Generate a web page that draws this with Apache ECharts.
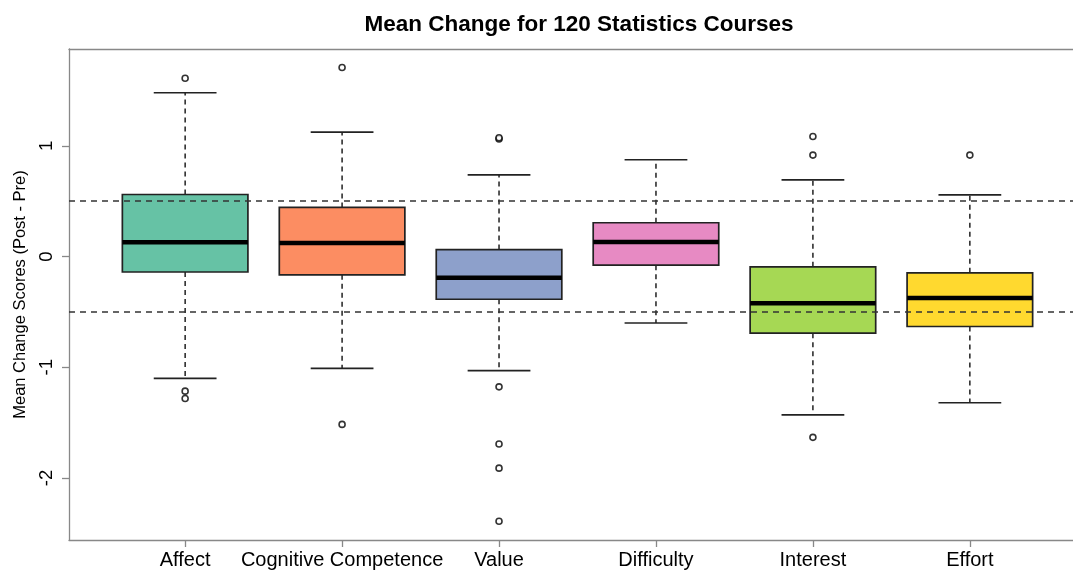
<!DOCTYPE html>
<html>
<head>
<meta charset="utf-8">
<script src="https://cdn.jsdelivr.net/npm/echarts@6/dist/echarts.min.js"></script>
<style>
html, body { margin: 0; padding: 0; background: #fff; }
#main { width: 1073px; height: 572px; }
</style>
</head>
<body>
<div id="main"></div>
<script>
const categories = ['Affect', 'Cognitive Competence', 'Value', 'Difficulty', 'Interest', 'Effort']
const whiskerLow = [-1.10, -1.01, -1.03, -0.60, -1.43, -1.32]
const q1 = [-0.14, -0.165, -0.386, -0.078, -0.692, -0.632]
const median = [0.128, 0.122, -0.192, 0.131, -0.422, -0.375]
const q3 = [0.56, 0.443, 0.063, 0.305, -0.093, -0.147]
const whiskerHigh = [1.479, 1.123, 0.737, 0.874, 0.692, 0.557]
const outliers = [
    [1.61, -1.216, -1.282],
    [1.707, -1.516],
    [1.061, 1.072, -1.177, -1.693, -1.911, -2.39],
    [],
    [1.084, 0.916, -1.633],
    [0.916],
]
const refLines = [0.5, -0.5]
const yTicks = [-2, -1, 0, 1]
const colors = ['#66C2A5', '#FC8D62', '#8DA0CB', '#E78AC3', '#A6D854', '#FFD92F']

const font = '"Liberation Sans", Arial, Helvetica, sans-serif'
const frame = { color: '#888', width: 1.3 }

// one row per box: [position, low whisker, q1, median, q3, high whisker]
const boxData = categories.map((c, i) => [i + 1, whiskerLow[i], q1[i], median[i], q3[i], whiskerHigh[i]])
const outlierData = []
outliers.forEach((list, i) => list.forEach(v => outlierData.push([i + 1, v])))

function renderBox(params, api) {
    const x = api.value(0)
    const lo = api.coord([x, api.value(1)])
    const b1 = api.coord([x, api.value(2)])
    const md = api.coord([x, api.value(3)])
    const b3 = api.coord([x, api.value(4)])
    const hi = api.coord([x, api.value(5)])
    const half = api.size([0.8, 0])[0] / 2
    const cap = half / 2
    const cx = lo[0]
    const dash = { stroke: '#111', lineWidth: 1.4, lineDash: [5, 4] }
    const solid = { stroke: '#222', lineWidth: 1.6 }
    return {
        type: 'group',
        children: [
            { type: 'line', shape: { x1: cx, y1: b3[1], x2: cx, y2: hi[1] }, style: dash },
            { type: 'line', shape: { x1: cx, y1: b1[1], x2: cx, y2: lo[1] }, style: dash },
            { type: 'line', shape: { x1: cx - cap, y1: hi[1], x2: cx + cap, y2: hi[1] }, style: solid },
            { type: 'line', shape: { x1: cx - cap, y1: lo[1], x2: cx + cap, y2: lo[1] }, style: solid },
            {
                type: 'rect',
                shape: { x: cx - half, y: b3[1], width: half * 2, height: b1[1] - b3[1] },
                style: { fill: colors[params.dataIndex], stroke: '#222', lineWidth: 1.7 },
            },
            { type: 'line', shape: { x1: cx - half, y1: md[1], x2: cx + half, y2: md[1] }, style: { stroke: '#000', lineWidth: 4.5 } },
        ],
    }
}

const myChart = echarts.init(document.getElementById('main'))
myChart.setOption({
    animation: false,
    title: {
        text: 'Mean Change for 120 Statistics Courses',
        left: 574,
        top: 8,
        textAlign: 'center',
        textStyle: { fontFamily: font, fontSize: 22.5, fontWeight: 'bold', color: '#000' },
    },
    grid: {
        left: 69,
        top: 49,
        width: 1017,
        height: 491,
        outerBoundsMode: 'none',
        containLabel: false,
    },
    xAxis: [
        {
            type: 'value',
            min: 0.26,
            max: 6.74,
            position: 'bottom',
            splitLine: { show: false },
            axisLine: { show: true, onZero: false, lineStyle: frame },
            axisTick: { show: true, length: 7, customValues: [1, 2, 3, 4, 5, 6], lineStyle: frame },
            axisLabel: {
                customValues: [1, 2, 3, 4, 5, 6],
                formatter: v => categories[Math.round(v) - 1],
                fontFamily: font,
                fontSize: 20,
                color: '#000',
                margin: 10,
            },
        },
        {
            type: 'value',
            min: 0.26,
            max: 6.74,
            position: 'top',
            splitLine: { show: false },
            axisLine: { show: true, onZero: false, lineStyle: frame },
            axisTick: { show: false },
            axisLabel: { show: false },
        },
    ],
    yAxis: {
        type: 'value',
        min: -2.56,
        max: 1.874,
        name: 'Mean Change Scores (Post - Pre)',
        nameLocation: 'middle',
        nameRotate: 90,
        nameGap: 39,
        nameTextStyle: { fontFamily: font, fontSize: 16.5, color: '#000' },
        splitLine: { show: false },
        axisLine: { show: true, onZero: false, lineStyle: frame },
        axisTick: { show: true, length: 7, customValues: yTicks, lineStyle: frame },
        axisLabel: {
            customValues: yTicks,
            rotate: 90,
            fontFamily: font,
            fontSize: 18.5,
            color: '#000',
            margin: 13,
        },
    },
    series: [
        {
            type: 'custom',
            renderItem: renderBox,
            data: boxData,
            encode: { x: 0, y: [1, 2, 3, 4, 5] },
            z: 2,
        },
        {
            type: 'scatter',
            data: outlierData,
            symbol: 'circle',
            symbolSize: 6,
            itemStyle: { color: '#fff', borderColor: '#000', borderWidth: 1.6 },
            z: 3,
        },
        {
            type: 'line',
            data: [],
            z: 4,
            markLine: {
                silent: true,
                symbol: 'none',
                label: { show: false },
                lineStyle: { color: '#333', width: 1.5, type: [6, 5] },
                data: refLines.map(v => ({ yAxis: v })),
            },
        },
    ],
})
</script>
</body>
</html>
